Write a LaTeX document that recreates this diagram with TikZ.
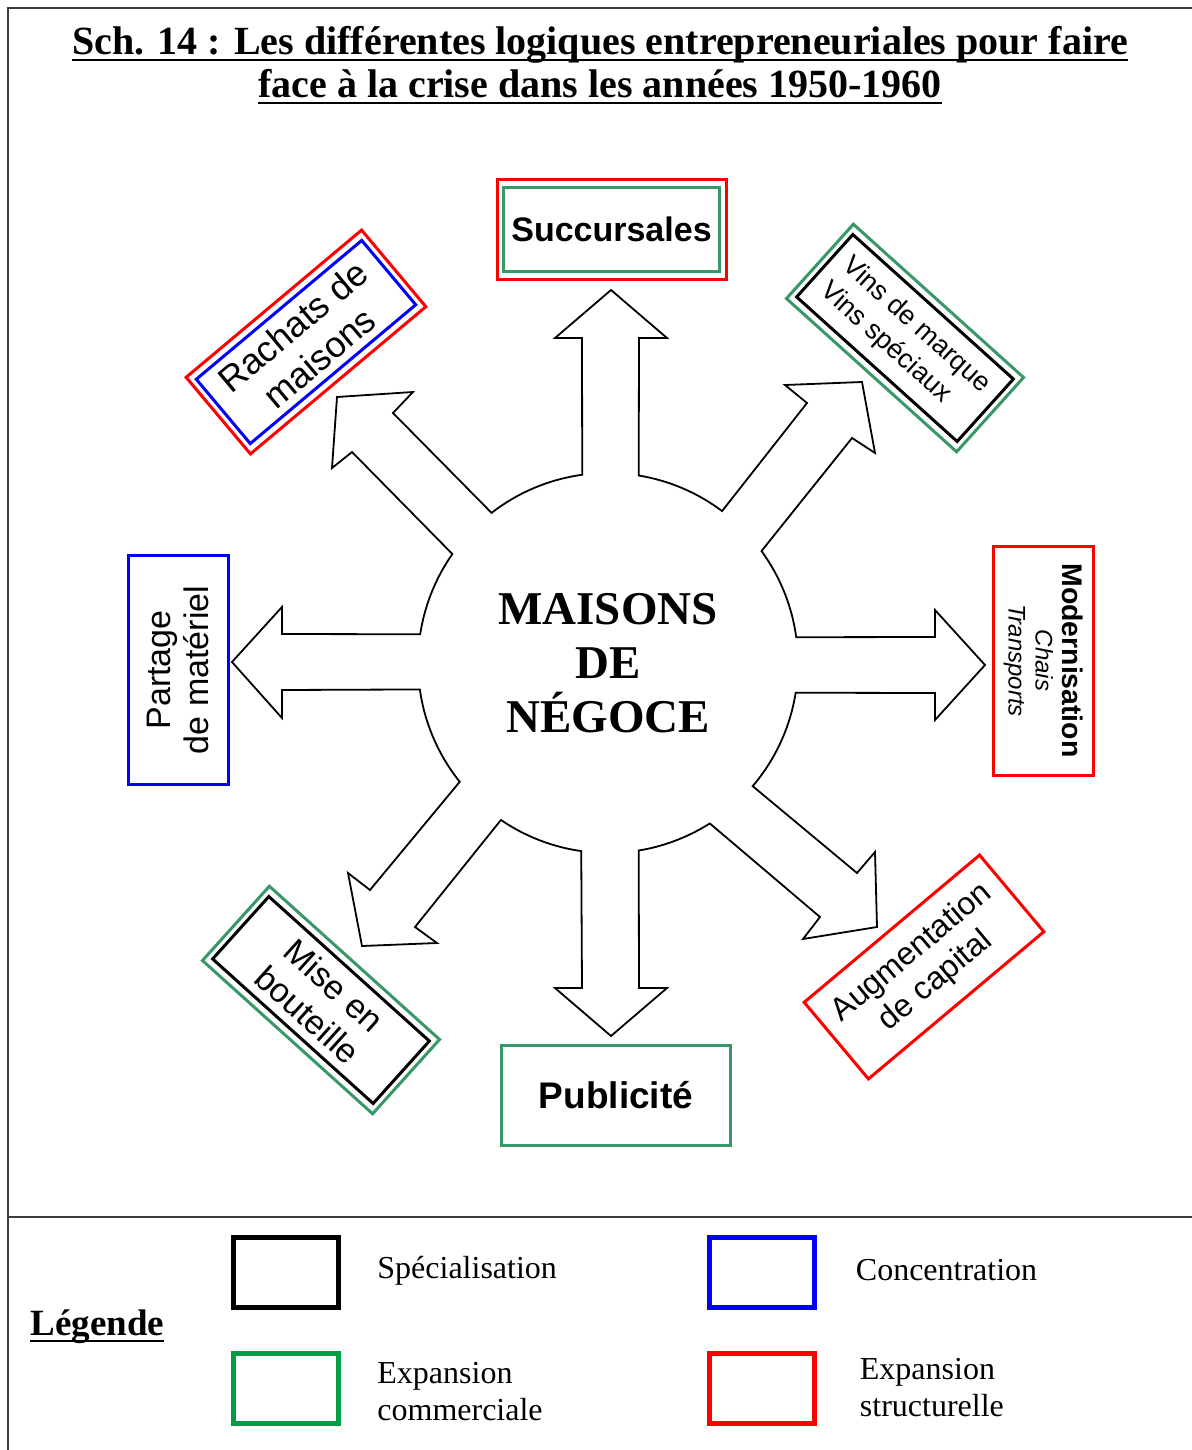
\documentclass[tikz,border=0pt]{standalone}
\usepackage{fontspec}
\setmainfont{Liberation Serif}
\setsansfont{Liberation Sans}
\usetikzlibrary{positioning,calc}
\definecolor{Crouge}{RGB}{255,0,0}
\definecolor{Cbleu}{RGB}{0,0,255}
\definecolor{Cvert}{RGB}{56,152,104}
\definecolor{Cvertleg}{RGB}{0,158,72}
\definecolor{Ccadre}{RGB}{60,60,60}
\newcommand{\souligne}[1]{\setbox0\hbox{#1}\rlap{\rule[-3.5pt]{\wd0}{1pt}}\box0}

\begin{document}
\begin{tikzpicture}[x=0.5pt, y=0.5pt,
      cadre/.style={draw, line width=1.5pt, minimum width=114.5pt,
                    minimum height=50pt, inner sep=0pt, align=center},
      cadrein/.style={cadre, minimum width=108pt, minimum height=42pt},
      cle/.style={draw, line width=2.5pt, minimum width=52.5pt,
                  minimum height=35pt, inner sep=0pt},
      txtleg/.style={font=\fontsize{16}{18.5}\selectfont, align=left,
                     inner sep=0pt, anchor=west},
      contour/.style={draw=black, line width=0.9pt, line join=miter},
      bord/.style={draw=Ccadre, line width=1pt}]
    \useasboundingbox (0,0) rectangle (1192,-1450);
    % Cadre
    \draw[bord] (8,-1450) -- (8,-8) -- (1192,-8);
    \draw[bord] (8,-1217) -- (1192,-1217);
    % Titre
    \node[font=\bfseries\fontsize{20}{21.5}\selectfont, align=center, inner sep=0pt]
      (titre) at (600,-65)
      {\souligne{Sch. 14 : Les différentes logiques entrepreneuriales pour faire}\\
       \souligne{face à la crise dans les années 1950-1960}};
    % Cercle et fleches
    \coordinate (c) at (608,-663);
    \draw[contour] ($(c)+(7.8:190)$) arc[start angle=7.8, end angle=36.1, radius=190]
      -- (852,-438) -- (875,-453) -- (862,-382) -- (785,-385) -- (807,-403)
      -- ($(c)+(53.1:190)$) arc[start angle=53.1, end angle=80.7, radius=190]
      -- (639,-338) -- (667,-338) -- (611,-290) -- (555,-338) -- (582,-338)
      -- ($(c)+(97.8:190)$) arc[start angle=97.8, end angle=127.8, radius=190]
      -- (393,-413) -- (413,-392) -- (337,-397) -- (332,-468) -- (352,-452)
      -- ($(c)+(145:190)$) arc[start angle=145, end angle=171.3, radius=190]
      -- (282,-634) -- (282,-607) -- (232,-662) -- (282,-718) -- (282,-690)
      -- ($(c)+(188:190)$) arc[start angle=188, end angle=218.7, radius=190]
      -- (370,-890) -- (348,-873) -- (362,-946) -- (437,-943) -- (415,-927)
      -- ($(c)+(235.7:190)$) arc[start angle=235.7, end angle=261.9, radius=190]
      -- (582,-988) -- (555,-988) -- (611,-1036) -- (667,-988) -- (639,-988)
      -- ($(c)+(279.3:190)$) arc[start angle=279.3, end angle=302.4, radius=190]
      -- (820,-917) -- (803,-939) -- (877,-927) -- (875,-852) -- (857,-873)
      -- ($(c)+(319.6:190)$) arc[start angle=319.6, end angle=351, radius=190]
      -- (935,-693) -- (935,-720) -- (985,-665) -- (935,-610) -- (935,-637)
      -- cycle;
    \node[font=\bfseries\fontsize{23.5}{27}\selectfont, align=center]
      (maisons) at (c) {MAISONS\\DE\\NÉGOCE};
    % Logiques
    \node[cadre, draw=Crouge] (succ) at (611.5,-229.5) {};
    \node[cadrein, draw=Cvert, font=\sffamily\bfseries\fontsize{17}{20}\selectfont]
      (succ-t) at (succ) {Succursales};
    \node[cadre, draw=Crouge, rotate=40] (rachats) at (306,-342) {};
    \node[cadrein, draw=Cbleu, rotate=40, font=\sffamily\fontsize{18}{20.5}\selectfont]
      (rachats-t) at (rachats) {Rachats de\\maisons};
    \node[cadre, draw=Cvert, rotate=-42] (vins) at (905,-338) {};
    \node[cadrein, draw=black, rotate=-42, align=left,
          font=\sffamily\fontsize{13.5}{16.5}\selectfont]
      (vins-t) at (vins) {Vins de marque\\Vins spéciaux};
    \node[cadre, draw=Cbleu, rotate=90, font=\sffamily\fontsize{17}{19}\selectfont]
      (partage) at (178,-670) {Partage\\de matériel};
    \node[cadre, draw=Crouge, rotate=-90, font=\sffamily\itshape\fontsize{12}{13.5}\selectfont]
      (modern) at (1043.5,-660.5)
      {{\upshape\bfseries\fontsize{14.2}{13.5}\selectfont Modernisation}\\Chais\\Transports};
    \node[cadre, draw=Cvert, rotate=-42] (mise) at (321,-1000) {};
    \node[cadrein, draw=black, rotate=-42, font=\sffamily\fontsize{17}{19.5}\selectfont]
      (mise-t) at (mise) {Mise en\\bouteille};
    \node[cadre, draw=Crouge, rotate=40, font=\sffamily\fontsize{16}{18.5}\selectfont]
      (augm) at (924,-967) {Augmentation\\de capital};
    \node[cadre, draw=Cvert, font=\sffamily\bfseries\fontsize{18.5}{20}\selectfont]
      (pub) at (616,-1095) {Publicité};
    % Legende
    \node[font=\bfseries\fontsize{18.5}{20}\selectfont, anchor=base west, inner sep=0pt]
      (legende) at (30,-1335) {\souligne{Légende}};
    \node[cle, draw=black] (k-spec) at (286,-1272.5) {};
    \node[cle, draw=Cbleu] (k-conc) at (761.5,-1272.5) {};
    \node[cle, draw=Cvertleg] (k-com) at (286,-1388.5) {};
    \node[cle, draw=Crouge] (k-str) at (761.5,-1388.5) {};
    \node[txtleg, right=18pt of k-spec, yshift=1pt] (t-spec) {Spécialisation};
    \node[txtleg, right=19.5pt of k-conc, yshift=1pt] (t-conc) {Concentration};
    \node[txtleg, right=18pt of k-com, yshift=-1.5pt] (t-com) {Expansion\\commerciale};
    \node[txtleg, right=21.5pt of k-str, yshift=0.5pt] (t-str) {Expansion\\structurelle};
  \end{tikzpicture}
\end{document}
